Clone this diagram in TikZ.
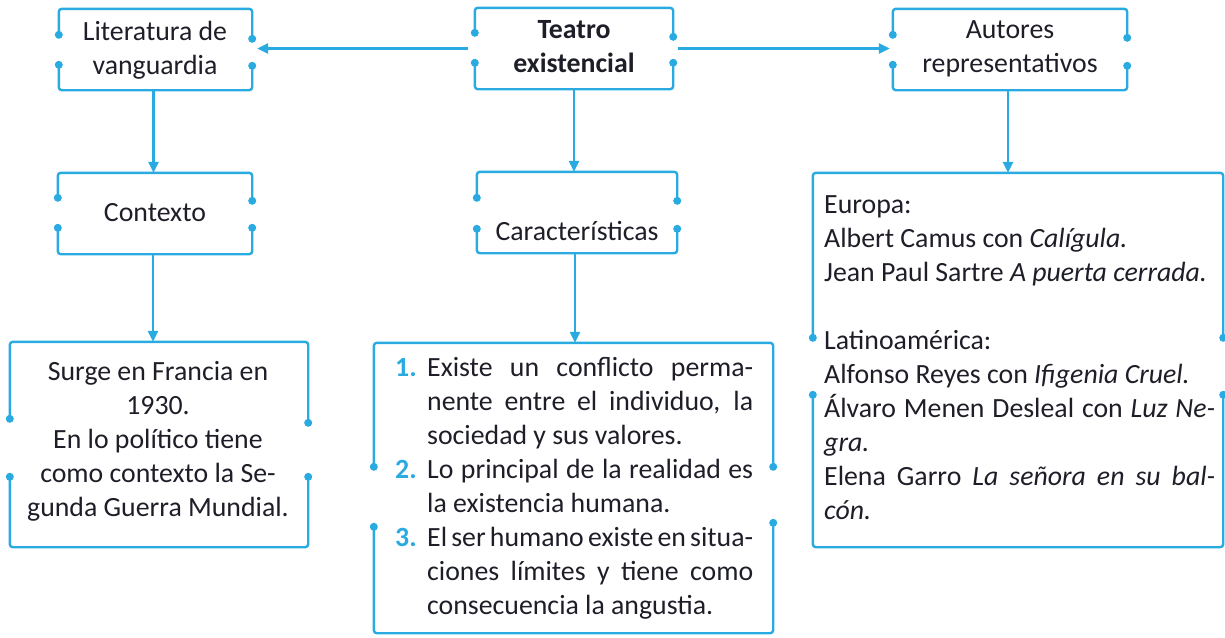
\documentclass[tikz,border=0pt]{standalone}
\usepackage{fontspec}
\setmainfont{Carlito}
\usetikzlibrary{arrows.meta}
\definecolor{cyanb}{RGB}{41,171,226}
\definecolor{txt}{RGB}{30,30,40}
\tikzset{
  frame/.style={rectangle, inner sep=0pt, draw=none},
  brk/.style={draw=cyanb, line width=2.4pt, rounded corners=3pt},
  lbl/.style={inner sep=0pt, text=txt, font=\fontsize{27.8}{34}\selectfont, align=center},
  arr/.style={draw=cyanb, line width=2.4pt, -{Triangle[length=11pt,width=10pt]}},
}
\newcommand\brk[5]{%
  \draw[brk] ([yshift=-#2pt]#1.north west) |- (#1.north east) -- ([yshift=-#4pt]#1.north east);
  \draw[brk] ([yshift=-#3pt]#1.north west) |- (#1.south east) -- ([yshift=-#5pt]#1.north east);
  \fill[cyanb] ([yshift=-#2pt]#1.north west) circle (4pt)
               ([yshift=-#3pt]#1.north west) circle (4pt)
               ([yshift=-#4pt]#1.north east) circle (4pt)
               ([yshift=-#5pt]#1.north east) circle (4pt);
}
\newcommand\num[1]{\makebox[32pt][l]{\textcolor{cyanb}{\textbf{#1}}}}
\begin{document}
\begin{tikzpicture}[x=1pt,y=-1pt]
\useasboundingbox (0,0) rectangle (1225,637);
% frames
\node[frame, minimum width=193pt, minimum height=81pt] (lit) at (155.5,49.5) {};
\node[frame, minimum width=198pt, minimum height=81pt] (teatro) at (574,48.5) {};
\node[frame, minimum width=234pt, minimum height=81pt] (aut) at (1010,49.5) {};
\node[frame, minimum width=194pt, minimum height=81pt] (ctx) at (155,213.5) {};
\node[frame, minimum width=200pt, minimum height=81pt] (car) at (577,212.5) {};
\node[frame, minimum width=410pt, minimum height=374pt] (eur) at (1018,360) {};
\node[frame, minimum width=298pt, minimum height=205pt] (surge) at (159,444.5) {};
\node[frame, minimum width=399pt, minimum height=290pt] (list) at (573.5,488) {};
% brackets
\brk{lit}{26}{56}{30}{57}
\brk{teatro}{25}{55}{29}{55}
\brk{aut}{26}{56}{29}{57}
\brk{ctx}{25}{55}{28}{55}
\brk{car}{26}{57}{29}{57}
\brk{eur}{165}{222}{165}{222}
\brk{surge}{77}{135}{81}{135}
\brk{list}{124}{184}{124}{180}
% texts
\node[lbl] (litT) at (155,50) {Literatura de\\vanguardia};
\node[lbl, font=\fontsize{27.8}{34}\selectfont\bfseries] (teatroT) at (574,47) {Teatro\\existencial};
\node[lbl] (autT) at (1010,49) {Autores\\representativos};
\node[lbl] (ctxT) at (155,213) {Contexto};
\node[lbl] (carT) at (577,231) {Características};
\node[lbl] (surgeT) at (158,441) {Surge en Francia en\\1930.\\En lo político tiene\\como contexto la Se-\\gunda Guerra Mundial.};
\node[lbl, align=left, anchor=west] (listT) at (395,488) {%
\num{1.}\makebox[326pt][s]{Existe un conflicto perma-}\\
\hspace*{32pt}\makebox[326pt][s]{nente entre el individuo, la}\\
\hspace*{32pt}\makebox[326pt][l]{sociedad y sus valores.}\\
\num{2.}\makebox[326pt][s]{Lo principal de la realidad es}\\
\hspace*{32pt}\makebox[326pt][l]{la existencia humana.}\\
\num{3.}\makebox[326pt][s]{El ser humano existe en situa-}\\
\hspace*{32pt}\makebox[326pt][s]{ciones límites y tiene como}\\
\hspace*{32pt}\makebox[326pt][l]{consecuencia la angustia.}};
\node[lbl, align=left, anchor=west] (eurT) at (824,358) {%
\makebox[391pt][l]{Europa:}\\
\makebox[391pt][l]{Albert Camus con \textit{Calígula.}}\\
\makebox[391pt][l]{Jean Paul Sartre \textit{A puerta cerrada.}}\\
\mbox{}\\
\makebox[391pt][l]{Latinoamérica:}\\
\makebox[391pt][l]{Alfonso Reyes con \textit{Ifigenia Cruel.}}\\
\makebox[391pt][s]{Álvaro Menen Desleal con \textit{Luz Ne-}}\\
\makebox[391pt][l]{\textit{gra.}}\\
\makebox[391pt][s]{Elena Garro \textit{La señora en su bal-}}\\
\makebox[391pt][l]{\textit{cón.}}};
% connectors
\draw[arr, shorten <=7pt, shorten >=5pt] (teatro.west) -- (teatro.west -| lit.east);
\draw[arr, shorten <=5pt, shorten >=3pt] (teatro.east) -- (teatro.east -| aut.west);
\draw[arr] ([xshift=-2pt]lit.south) -- ([xshift=-2pt]lit.south |- ctx.north);
\draw[arr] ([xshift=-2pt]ctx.south) -- ([xshift=-2pt]ctx.south |- surge.north);
\draw[arr] (teatro.south) -- (teatro.south |- car.north);
\draw[arr] ([xshift=-2pt]car.south) -- ([xshift=-2pt]car.south |- list.north);
\draw[arr] ([xshift=-2pt]aut.south) -- ([xshift=-2pt]aut.south |- eur.north);
\end{tikzpicture}
\end{document}
